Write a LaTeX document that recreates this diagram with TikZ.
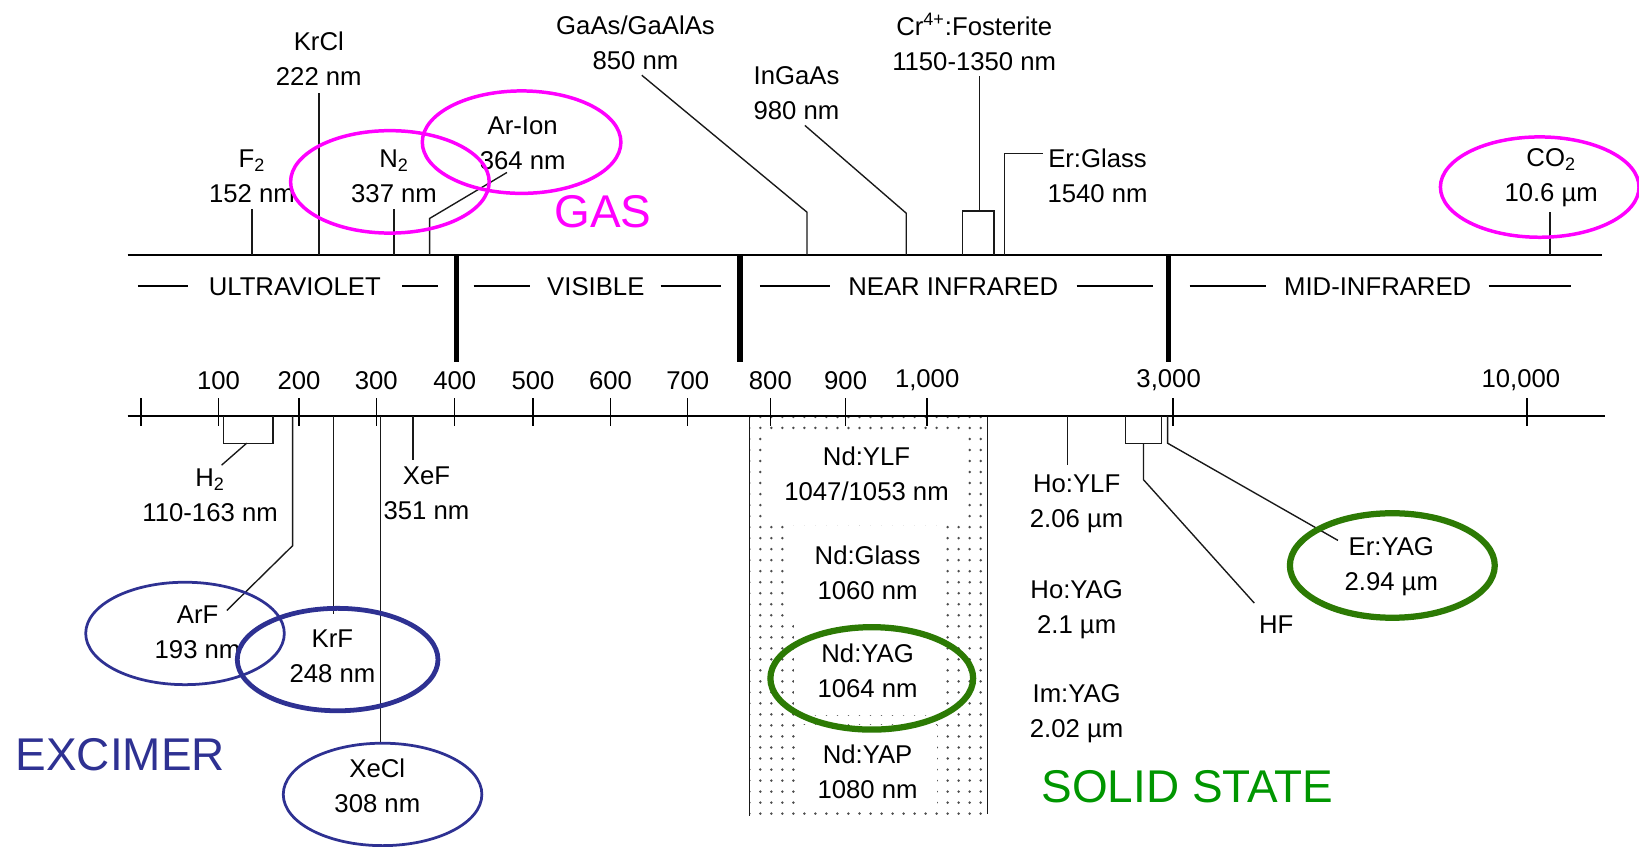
\documentclass[tikz,border=0pt]{standalone}
\usepackage{fontspec}
\setmainfont{Liberation Sans}
\usetikzlibrary{patterns.meta}
\definecolor{figMagenta}{RGB}{255,0,255}
\definecolor{figAzulExc}{RGB}{46,49,146}
\definecolor{figVerdeElip}{RGB}{44,122,4}
\definecolor{figVerdeTxt}{RGB}{0,150,0}
\tikzset{
  etiqueta/.style={align=center, font=\fontsize{14}{19}\selectfont, inner sep=3pt},
  rotulo/.style={font=\fontsize{14}{16}\selectfont, inner sep=0pt},
  grupo/.style={font=\fontsize{25}{28}\selectfont, inner sep=0pt},
  guia/.style={line width=0.75pt, draw=black!90},
  eje/.style={line width=1.1pt},
  divisor/.style={line width=2.8pt},
  raya/.style={line width=1.1pt},
  marca/.style={line width=0.75pt},
  elipseGas/.style={draw=figMagenta, line width=1.9pt},
  elipseExc/.style={draw=figAzulExc, line width=1.5pt},
  elipseSol/.style={draw=figVerdeElip, line width=3.4pt}
}

\begin{document}
\begin{tikzpicture}[x=0.02cm, y=-0.02cm]
  \useasboundingbox (0,0) rectangle (1568,810);

  % zona de estado solido
  \fill[pattern={Dots[distance=6pt, radius=0.75pt]}, pattern color=black!70] (717,398) rectangle (945,780);
  \fill[white] (735,412) rectangle (926,497);
  \fill[white] (758,503) rectangle (902,591);
  \fill[white] (760,597) rectangle (900,684);
  \fill[white] (763,694) rectangle (896,774);
  \draw[guia] (717,398) -- (717,781);
  \draw[guia] (945,398) -- (945,779);

  % ejes y regiones
  \draw[eje] (122,244) -- (1533,244);
  \draw[eje] (122,398) -- (1535,398);
  \foreach \x in {437,708,1118}
    \draw[divisor] (\x,244) -- (\x,346);
  \node[rotulo] (uv) at (282,274) {ULTRAVIOLET};
  \node[rotulo] (vis) at (570,274) {VISIBLE};
  \node[rotulo] (nir) at (912,274) {NEAR INFRARED};
  \node[rotulo] (mir) at (1318,274) {MID-INFRARED};
  \foreach \a/\b in {132/180,385/419,453/507,632/690,727/794,1030/1103,1138/1211,1424/1503}
    \draw[raya] (\a,274) -- (\b,274);

  % escala
  \foreach \x/\t in {209/100,286/200,360/300,435/400,510/500,584/600,658/700,737/800,809/900,887/{1,000},1118/{3,000},1455/{10,000}}
    \node[rotulo] (esc\x) at (\x,364) {\t};
  \foreach \x in {135,209,286,360,435,510,584,658,737,809,887,1122,1461}
    \draw[marca] (\x,381) -- (\x,408);

  % laseres de arriba
  \node[etiqueta] (f2) at (241,169) {F\textsubscript{2}\\152 nm};
  \node[etiqueta] (krcl) at (305,56) {KrCl\\222 nm};
  \node[etiqueta] (n2) at (377,169) {N\textsubscript{2}\\337 nm};
  \node[etiqueta] (arion) at (500,137) {Ar-Ion\\364 nm};
  \node[etiqueta] (gaas) at (608,41) {GaAs/GaAlAs\\850 nm};
  \node[etiqueta] (ingaas) at (762,89) {InGaAs\\980 nm};
  \node[etiqueta] (cr) at (932,40) {Cr\textsuperscript{4+}:Fosterite\\1150-1350 nm};
  \node[etiqueta] (erglass) at (1050,168) {Er:Glass\\1540 nm};
  \node[etiqueta] (co2) at (1484,170) {CO\textsubscript{2}\\10.6 µm};

  \coordinate (f2E) at (241,244);
  \coordinate (krclE) at (305,244);
  \coordinate (n2E) at (377,244);
  \coordinate (co2E) at (1483,244);
  \draw[guia] (f2E) -- (241,200);
  \draw[guia] (krclE) -- (305,89);
  \draw[guia] (n2E) -- (377,200);
  \draw[guia] (co2E) -- (1483,203);
  \coordinate (arE) at (411,244);
  \coordinate (arT) at (485,165);
  \draw[guia] (arE) -- (411,209) -- (arT);
  \coordinate (gaasE) at (772,244);
  \coordinate (gaasT) at (614,72);
  \draw[guia] (gaasE) -- (772,203) -- (gaasT);
  \coordinate (ingaasE) at (867,244);
  \coordinate (ingaasT) at (770,120);
  \draw[guia] (ingaasE) -- (867,204) -- (ingaasT);
  \draw[guia] (921,244) -- (921,202) -- (951,202) -- (951,244);
  \coordinate (crT) at (937,73);
  \draw[guia] (937,202) -- (crT);
  \coordinate (erglassE) at (961,244);
  \coordinate (erglassT) at (998,147);
  \draw[guia] (erglassE) |- (erglassT);

  \draw[elipseGas] (373,174) ellipse [x radius=95, y radius=49];
  \draw[elipseGas] (499,136) ellipse [x radius=95, y radius=49];
  \draw[elipseGas] (1473,179) ellipse [x radius=95, y radius=48];
  \node[grupo, text=figMagenta] (gas) at (577,203) {GAS};

  % excimeros
  \node[etiqueta] (h2) at (201,474) {H\textsubscript{2}\\110-163 nm};
  \node[etiqueta] (arf) at (189,605) {ArF\\193 nm};
  \node[etiqueta] (krf) at (318,628) {KrF\\248 nm};
  \node[etiqueta] (xecl) at (361,752) {XeCl\\308 nm};
  \node[etiqueta] (xef) at (408,472) {XeF\\351 nm};

  \draw[guia] (214,398) -- (214,424) -- (261,424) -- (261,398);
  \coordinate (h2T) at (212,445);
  \draw[guia] (236,424) -- (h2T);
  \coordinate (arfE) at (280,398);
  \coordinate (arfT) at (217,584);
  \draw[guia] (arfE) -- (280,522) -- (arfT);
  \coordinate (krfE) at (319,398);
  \coordinate (krfT) at (319,587);
  \draw[guia] (krfE) -- (krfT);
  \coordinate (xeclE) at (364,398);
  \coordinate (xeclT) at (364,710);
  \draw[guia] (xeclE) -- (xeclT);
  \coordinate (xefE) at (395,398);
  \coordinate (xefT) at (395,440);
  \draw[guia] (xefE) -- (xefT);

  \draw[elipseExc] (177,606) ellipse [x radius=95, y radius=49];
  \draw[elipseExc, line width=2.6pt] (323,631) ellipse [x radius=96, y radius=49];
  \draw[elipseExc] (366,760) ellipse [x radius=95, y radius=49];
  \node[grupo, text=figAzulExc] (exc) at (115,722) {EXCIMER};

  % estado solido
  \node[etiqueta] (ndylf) at (829,453) {Nd:YLF\\1047/1053 nm};
  \node[etiqueta] (ndglass) at (830,548) {Nd:Glass\\1060 nm};
  \node[etiqueta] (ndyag) at (830,642) {Nd:YAG\\1064 nm};
  \node[etiqueta] (ndyap) at (830,738) {Nd:YAP\\1080 nm};
  \node[etiqueta] (hoylf) at (1030,482) {Ho:YLF\\2.06 µm};
  \node[etiqueta] (hoyag) at (1030,583) {Ho:YAG\\2.1 µm};
  \node[etiqueta] (imyag) at (1030,683) {Im:YAG\\2.02 µm};
  \node[etiqueta] (hf) at (1221,598) {HF};
  \node[etiqueta] (eryag) at (1331,542) {Er:YAG\\2.94 µm};

  \coordinate (hoylfE) at (1021,398);
  \coordinate (hoylfT) at (1021,445);
  \draw[guia] (hoylfE) -- (hoylfT);
  \draw[guia] (1077,398) -- (1077,424) -- (1111,424) -- (1111,398);
  \coordinate (hfT) at (1200,577);
  \draw[guia] (1094,424) -- (1094,459) -- (hfT);
  \coordinate (eryagE) at (1117,398);
  \coordinate (eryagT) at (1280,517);
  \draw[guia] (eryagE) -- (1117,424) -- (eryagT);

  \draw[elipseSol] (834,649) ellipse [x radius=97, y radius=49];
  \draw[elipseSol] (1332,541) ellipse [x radius=98, y radius=50];
  \node[grupo, text=figVerdeTxt] (solido) at (1136,753) {SOLID STATE};
\end{tikzpicture}
\end{document}
